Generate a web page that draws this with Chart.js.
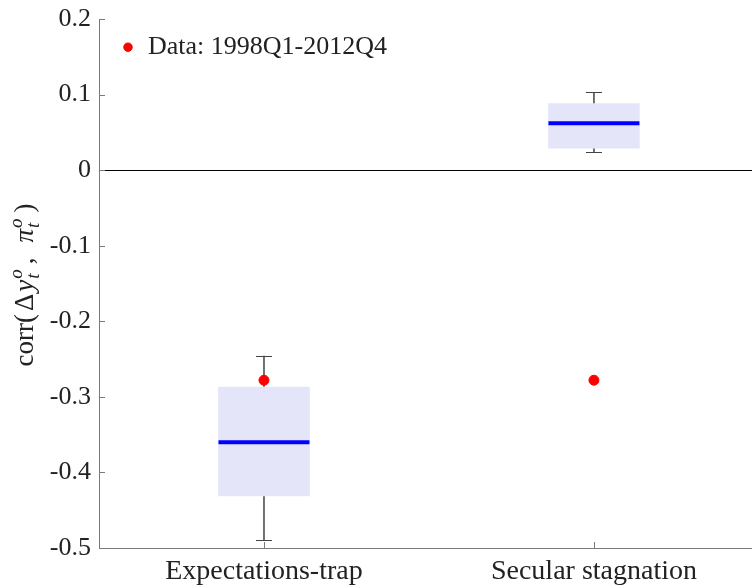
<!DOCTYPE html>
<html>
<head>
<meta charset="utf-8">
<script src="https://cdn.jsdelivr.net/npm/chart.js@4.4.1/dist/chart.umd.min.js"></script>
<style>
  html, body { margin: 0; padding: 0; background: #fff; }
</style>
</head>
<body>
<canvas id="chart" width="752" height="586"></canvas>
<script>
// values
var categories = ["Expectations-trap", "Secular stagnation"];
var whiskerLow = [-0.490, 0.024];
var boxLow = [-0.431, 0.029];
var medians = [-0.360, 0.062];
var boxHigh = [-0.287, 0.088];
var whiskerHigh = [-0.246, 0.103];
var dataPoints = [-0.278, -0.278];
var yTicks = [-0.5, -0.4, -0.3, -0.2, -0.1, 0, 0.1, 0.2];
var legendLabel = "Data: 1998Q1-2012Q4";

var serif = "'Liberation Serif', 'Times New Roman', serif";
var axisGray = '#7a7a7a';

// whiskers caps, medians
var boxExtras = {
	id: 'boxExtras',
	afterDatasetsDraw: function(chart) {
		var ctx = chart.ctx, y = chart.scales.y;
		var boxMeta = chart.getDatasetMeta(1);
		ctx.save();
		for (var i = 0; i < categories.length; i++) {
			var bar = boxMeta.data[i];
			var half = bar.width / 2;
			var ym = y.getPixelForValue(medians[i]);
			ctx.strokeStyle = '#0000ff';
			ctx.lineWidth = 4;
			ctx.beginPath();
			ctx.moveTo(bar.x - half, ym);
			ctx.lineTo(bar.x + half, ym);
			ctx.stroke();

			ctx.strokeStyle = '#444';
			ctx.lineWidth = 1;
			[whiskerLow[i], whiskerHigh[i]].forEach(function(v) {
				var yy = Math.round(y.getPixelForValue(v)) + 0.5;
				ctx.beginPath();
				ctx.moveTo(bar.x - 8, yy);
				ctx.lineTo(bar.x + 8, yy);
				ctx.stroke();
			});
		}
		ctx.restore();
	}
};

// inward tick marks and the y title with sub/superscripts
var axisDecor = {
	id: 'axisDecor',
	afterDraw: function(chart) {
		var ctx = chart.ctx, area = chart.chartArea;
		var xs = chart.scales.x, ys = chart.scales.y;
		ctx.save();
		ctx.strokeStyle = axisGray;
		ctx.lineWidth = 1;
		ys.ticks.forEach(function(t) {
			var yy = Math.round(ys.getPixelForValue(t.value)) + 0.5;
			ctx.beginPath();
			ctx.moveTo(area.left, yy);
			ctx.lineTo(area.left + 6, yy);
			ctx.stroke();
		});
		xs.ticks.forEach(function(t) {
			var xx = Math.round(xs.getPixelForValue(t.value)) + 0.5;
			ctx.beginPath();
			ctx.moveTo(xx, area.bottom);
			ctx.lineTo(xx, area.bottom - 6);
			ctx.stroke();
		});

		// y title: corr(Δy_t^o, π_t^o)
		var big = 27, small = 19;
		var rm = big + "px " + serif, it = "italic " + big + "px " + serif;
		var parts = [
			{ t: "corr(", f: rm, gap: 3 },
			{ t: "\u0394", f: rm, gap: 2 },
			{ t: "y", f: it, gap: 0 },
			{ stack: ["o", "t"], gap: 4 },
			{ t: ",", f: rm, gap: 15 },
			{ t: "\u03c0", f: it, gap: 0 },
			{ stack: ["o", "t"], gap: 5 },
			{ t: ")", f: rm, gap: 0 }
		];
		var smallFont = "italic " + small + "px " + serif;
		var total = 0;
		parts.forEach(function(p) {
			if (p.stack) {
				ctx.font = smallFont;
				p.w = Math.max(ctx.measureText(p.stack[0]).width, ctx.measureText(p.stack[1]).width) + 2;
			} else {
				ctx.font = p.f;
				p.w = ctx.measureText(p.t).width;
			}
			total += p.w + p.gap;
		});
		ctx.translate(33, 285);
		ctx.rotate(-Math.PI / 2);
		ctx.fillStyle = '#222';
		ctx.textBaseline = 'alphabetic';
		ctx.textAlign = 'left';
		var cx = -total / 2;
		parts.forEach(function(p) {
			if (p.stack) {
				ctx.font = smallFont;
				ctx.fillText(p.stack[0], cx + 1, -11);
				ctx.fillText(p.stack[1], cx + 1, 6);
			} else {
				ctx.font = p.f;
				ctx.fillText(p.t, cx, 0);
			}
			cx += p.w + p.gap;
		});
		ctx.restore();
	}
};

var ctx1 = document.getElementById('chart');

var chart1 = new Chart(ctx1, {
	type: 'bar',
	data: {
		datasets: [
			{
				type: 'scatter',
				label: legendLabel,
				data: categories.map(function(c, i) { return { x: i + 1, y: dataPoints[i] }; }),
				backgroundColor: '#ff0000',
				borderColor: '#ff0000',
				pointRadius: 5,
				pointStyle: 'circle'
			},
			{
				label: 'box',
				data: categories.map(function(c, i) { return { x: i + 1, y: [boxLow[i], boxHigh[i]] }; }),
				backgroundColor: '#e5e5fa',
				barThickness: 91,
				grouped: false
			},
			{
				label: 'whisker low',
				data: categories.map(function(c, i) { return { x: i + 1, y: [whiskerLow[i], boxLow[i]] }; }),
				backgroundColor: '#555',
				barThickness: 1,
				grouped: false
			},
			{
				label: 'whisker high',
				data: categories.map(function(c, i) { return { x: i + 1, y: [boxHigh[i], whiskerHigh[i]] }; }),
				backgroundColor: '#555',
				barThickness: 1,
				grouped: false
			}
		]
	},
	options: {
		responsive: false,
		animation: false,
		layout: { autoPadding: false, padding: { top: 19, left: 0, right: 0, bottom: 0 } },
		plugins: {
			tooltip: { enabled: false },
			legend: {
				position: 'chartArea',
				align: 'start',
				title: { display: true, text: '', font: { size: 1 }, padding: { top: 11, bottom: 0 } },
				labels: {
					filter: function(item) { return item.datasetIndex === 0; },
					usePointStyle: true,
					pointStyle: 'circle',
					boxWidth: 14,
					boxHeight: 6,
					padding: 22,
					color: '#222',
					font: { family: serif, size: 26 }
				}
			}
		},
		scales: {
			x: {
				type: 'linear',
				offset: false,
				min: 0.5,
				max: 2.479,
				afterBuildTicks: function(scale) {
					scale.ticks = categories.map(function(c, i) { return { value: i + 1 }; });
				},
				afterFit: function(scale) {
					scale.height = 38;
					scale.paddingLeft = 0;
					scale.paddingRight = 0;
				},
				ticks: {
					callback: function(v) { return categories[v - 1]; },
					color: '#222',
					font: { family: serif, size: 28 },
					padding: 7,
					maxRotation: 0,
					autoSkip: false
				},
				grid: { display: false, drawTicks: false },
				border: { color: axisGray, width: 1 }
			},
			y: {
				min: -0.5,
				max: 0.2,
				afterBuildTicks: function(scale) {
					scale.ticks = yTicks.map(function(v) { return { value: v }; });
				},
				afterFit: function(scale) {
					scale.width = 99;
					scale.paddingTop = 0;
					scale.paddingBottom = 0;
				},
				ticks: {
					callback: function(v) { return v === 0 ? '0' : v.toFixed(1); },
					color: '#222',
					font: { family: serif, size: 26 },
					padding: 8
				},
				grid: {
					drawTicks: false,
					color: function(c) { return c.tick && c.tick.value === 0 ? '#000' : 'rgba(0,0,0,0)'; },
					lineWidth: 1
				},
				border: { color: axisGray, width: 1 }
			}
		}
	},
	plugins: [boxExtras, axisDecor]
});
</script>
</body>
</html>
